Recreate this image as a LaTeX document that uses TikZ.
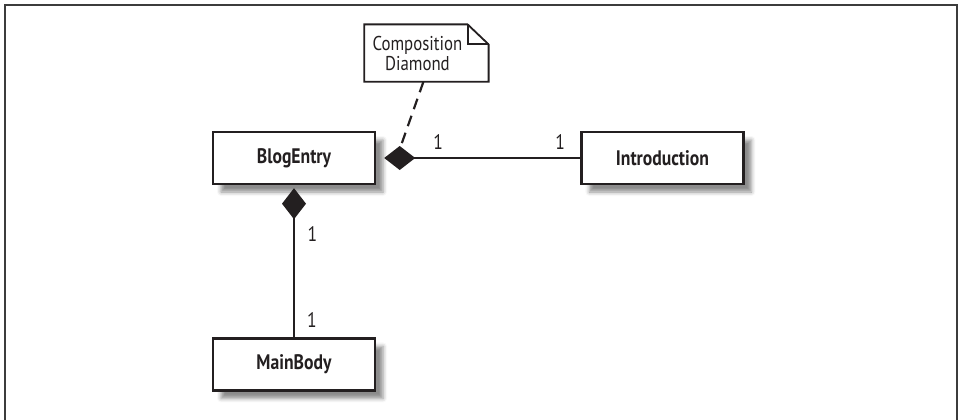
\documentclass[tikz,border=0pt]{standalone}
\usepackage{fontspec}
\setmainfont{PT Sans}[FakeStretch=0.84]
\usepackage{xcolor}
\usetikzlibrary{arrows.meta, positioning, shadows.blur}
\definecolor{umlInk}{RGB}{35,31,32}
\definecolor{umlFrame}{RGB}{60,60,60}

\begin{document}
\begin{tikzpicture}[
    cls/.style={draw=umlInk, line width=2.4pt, fill=white, minimum width=162pt, minimum height=52pt, font=\fontsize{21}{24}\selectfont\bfseries, text=umlInk, blur shadow={shadow xshift=8pt, shadow yshift=-8pt, shadow blur radius=4pt, shadow opacity=45}},
    notebox/.style={minimum width=106pt, minimum height=57pt, inner sep=0pt, align=center, font=\fontsize{20}{20}\selectfont, text=umlInk},
    mult/.style={inner sep=1pt, font=\fontsize{21}{24}\selectfont, text=umlInk},
    link/.style={draw=umlInk, line width=2.4pt},
    comp/.style={link, {Diamond[length=31pt, width=24pt]}-},
    anchorline/.style={draw=umlInk, line width=2.2pt, dash pattern=on 11pt off 7pt}
]
    % page and frame
    \useasboundingbox (0,0) rectangle (958pt,-420pt);
    \draw[umlFrame, line width=2pt] (4.5pt,-421pt) -- (4.5pt,-5.5pt) -- (956.5pt,-5.5pt) -- (956.5pt,-421pt);

    \node[cls] (blog) at (294pt,-158pt) {BlogEntry};
    \node[cls, right=204pt of blog] (intro) {Introduction};
    \node[cls, below=152pt of blog] (main) {MainBody};
    \node[notebox, above right=49pt and -12pt of blog.north east] (note) {Composition\\Diamond};
    % note outline with folded corner
    \draw[draw=umlInk, line width=1.8pt] (note.south west) -- (note.north west) -- ([xshift=-3pt]note.north east) -- ([xshift=18pt, yshift=-20pt]note.north east) -- ([xshift=18pt]note.south east) -- cycle;
    \draw[draw=umlInk, line width=1.8pt] ([xshift=-3pt]note.north east) |- ([xshift=18pt, yshift=-20pt]note.north east);

    \coordinate (dtop) at ([xshift=25pt, yshift=13pt]blog.east);

    \draw[comp, shorten <=8pt] (blog) -- (intro);
    \draw[comp, shorten <=3pt] (blog) -- (main);
    \draw[anchorline] ([xshift=6pt]note.south) -- (dtop);

    \node[mult, above right=7pt and 56pt of blog.east] (m1) {1};
    \node[mult, above left=7pt and 14pt of intro.west] (m2) {1};
    \node[mult, below right=40pt and 12.5pt of blog.south] (m3) {1};
    \node[mult, above right=9pt and 12pt of main.north] (m4) {1};
\end{tikzpicture}
\end{document}
